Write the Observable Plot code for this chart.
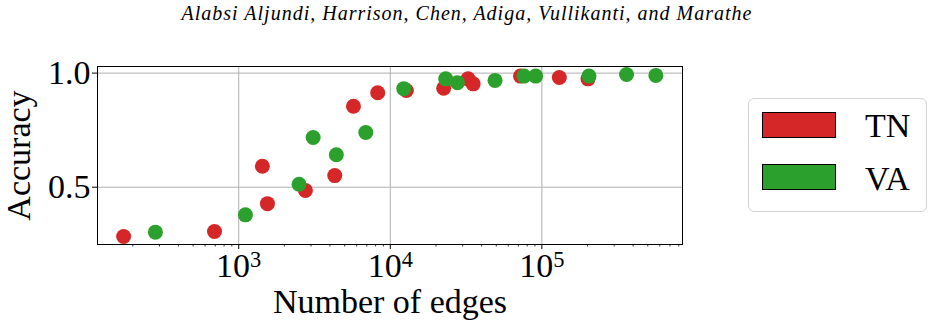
<!DOCTYPE html>
<html><head><meta charset="utf-8">
<script src="https://cdn.jsdelivr.net/npm/d3@7"></script>
<script src="https://cdn.jsdelivr.net/npm/@observablehq/plot@0.6"></script>
<style>
html,body{margin:0;padding:0;background:#fff;}
#wrap{position:relative;width:934px;height:327px;font-family:"Liberation Serif","Times New Roman",serif;color:#000;}
#title{height:30px;text-align:center;font-style:italic;font-size:20px;line-height:22px;padding-top:2px;box-sizing:border-box;white-space:nowrap;letter-spacing:1px;}
#chart svg{display:block;}
#legend{position:absolute;left:748px;top:98px;width:179px;height:114px;box-sizing:border-box;border:1px solid #d3d3d3;border-radius:6px;background:#fff;}
.sw{position:absolute;left:13px;width:74px;height:26px;box-sizing:border-box;border:1px solid #000;}
.lt{position:absolute;left:116px;font-size:34px;line-height:34px;white-space:nowrap;}
</style></head>
<body>
<div id="wrap"><div id="title"></div><div id="chart"></div><div id="legend"></div></div>
<script>
const titleText = "Alabsi Aljundi, Harrison, Chen, Adiga, Vullikanti, and Marathe";
const xLabel = "Number of edges";
const yLabel = "Accuracy";
const seriesNames = ["TN", "VA"];
const seriesColors = ["#d62728", "#2ca02c"];

const tnEdges = [174, 692, 1432, 1547, 2754, 4300, 5714, 8260, 12760, 22500, 32600, 35200, 72300, 130400, 201600];
const tnAcc   = [0.284, 0.306, 0.592, 0.428, 0.486, 0.551, 0.855, 0.914, 0.924, 0.934, 0.975, 0.953, 0.987, 0.981, 0.975];

const vaEdges = [282, 1107, 2500, 3097, 4406, 6890, 12270, 23200, 27700, 49100, 76200, 91000, 204600, 362000, 565000];
const vaAcc   = [0.303, 0.379, 0.513, 0.718, 0.642, 0.740, 0.932, 0.975, 0.958, 0.968, 0.987, 0.987, 0.987, 0.994, 0.990];

const xTicks = [1e3, 1e4, 1e5];
const xTickLabels = ["10^3", "10^4", "10^5"];
const yTicks = [0.5, 1.0];
const yTickLabels = ["0.5", "1.0"];
const xDomain = [117, 847000];
const yDomain = [0.249, 1.029];

document.getElementById("title").textContent = titleText;

const data = [
  ...tnEdges.map((e, i) => ({series: seriesNames[0], edges: e, acc: tnAcc[i]})),
  ...vaEdges.map((e, i) => ({series: seriesNames[1], edges: e, acc: vaAcc[i]}))
];

const minor = [];
for (let k = 2; k <= 5; k++) for (let m = 2; m <= 9; m++) {
  const v = m * Math.pow(10, k);
  if (v >= xDomain[0] && v <= xDomain[1]) minor.push(v);
}

const chart = Plot.plot({
  width: 934, height: 297,
  marginTop: 36, marginBottom: 83, marginLeft: 97, marginRight: 252,
  style: {fontFamily: "'Liberation Serif', 'Times New Roman', serif", fontSize: "34px", background: "white", color: "black", overflow: "visible"},
  x: {type: "log", domain: xDomain},
  y: {domain: yDomain},
  color: {domain: seriesNames, range: seriesColors},
  marks: [
    Plot.gridX(xTicks, {stroke: "#b0b0b0", strokeOpacity: 1, strokeWidth: 1}),
    Plot.gridY(yTicks, {stroke: "#b0b0b0", strokeOpacity: 1, strokeWidth: 1}),
    Plot.axisX(minor, {tickSize: 2.5, tickFormat: () => "", label: null, strokeWidth: 0.8}),
    Plot.axisX(xTicks, {tickSize: 5, tickPadding: 3, tickFormat: d => xTickLabels[xTicks.indexOf(d)], label: null}),
    Plot.axisY(yTicks, {tickSize: 5, tickPadding: 2, tickFormat: d => yTickLabels[yTicks.indexOf(d)], label: null}),
    Plot.dot(data, {x: "edges", y: "acc", fill: "series", r: 7.5}),
    Plot.frame({stroke: "black", strokeWidth: 1}),
    Plot.text([xLabel], {text: d => d, frameAnchor: "bottom", textAnchor: "middle", lineAnchor: "middle", dy: 58}),
    Plot.text([yLabel], {text: d => d, frameAnchor: "left", textAnchor: "middle", lineAnchor: "middle", rotate: -90, dx: -78})
  ]
});
document.getElementById("chart").appendChild(chart);

// render exponents as superscripts
d3.select(chart).selectAll("text").each(function () {
  const t = this.textContent;
  if (t.includes("^") && this.children.length === 0) {
    const [base, exp] = t.split("^");
    const sel = d3.select(this);
    sel.text(null);
    sel.append("tspan").text(base);
    sel.append("tspan").attr("font-size", "0.66em").attr("dy", "-0.42em").text(exp);
  }
});

// legend
const legend = d3.select("#legend");
seriesNames.forEach((name, i) => {
  legend.append("div").attr("class", "sw")
    .style("top", (13 + i * 52) + "px")
    .style("background", seriesColors[i]);
  legend.append("div").attr("class", "lt")
    .style("top", (9.5 + i * 53) + "px")
    .text(name);
});
</script>
</body></html>
